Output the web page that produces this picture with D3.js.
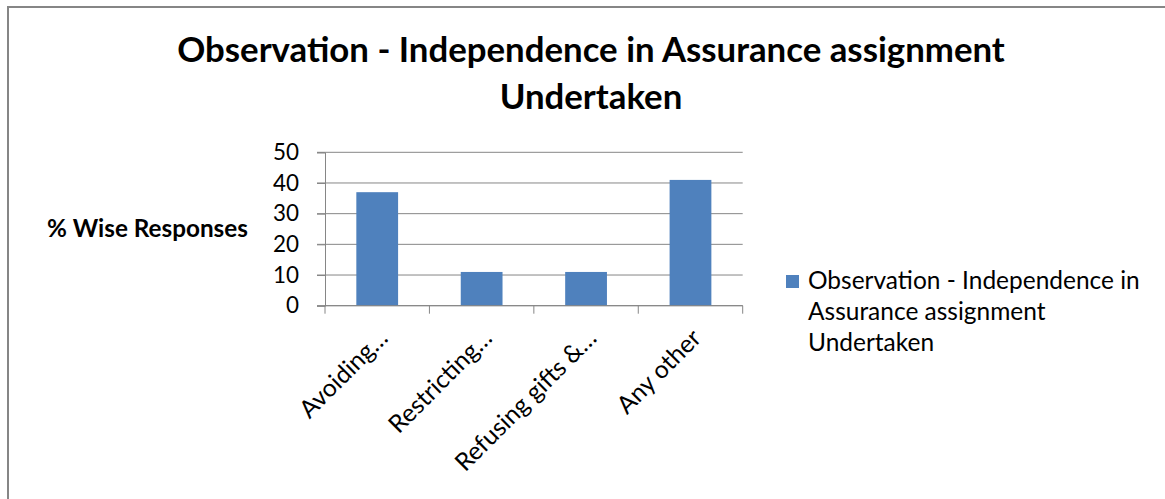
<!DOCTYPE html>
<html>
<head>
<meta charset="utf-8">
<script src="https://cdn.jsdelivr.net/npm/d3@7"></script>
<style>
  html, body { margin: 0; padding: 0; background: #fff; }
  svg { display: block; }
  text { font-family: Lato, "Open Sans", sans-serif; fill: #000; }
</style>
</head>
<body>
<svg id="chart" width="1165" height="499"></svg>
<script>
const titleLines = ["Observation - Independence in Assurance assignment", "Undertaken"];
const yAxisTitle = "% Wise Responses";
const categories = ["Avoiding…", "Restricting…", "Refusing gifts &…", "Any other"];
const values = [37, 11, 11, 41];
const yTicks = [0, 10, 20, 30, 40, 50];
const seriesName = "Observation - Independence in Assurance assignment Undertaken";
const legendLines = ["Observation - Independence in", "Assurance assignment", "Undertaken"];

const W = 1165, H = 499;
const plot = { left: 325, right: 742.7, top: 152.3, bottom: 305.7 };
const barColor = "#4F81BD";
const gridColor = "#868686";

const svg = d3.select("#chart");

// fit a text's font-size so its rendered width matches a target width
function fitSize(str, weight, target) {
  const t = svg.append("text").attr("font-size", 100).attr("font-weight", weight).text(str);
  const w = t.node().getComputedTextLength();
  t.remove();
  return 100 * target / w;
}

// chart border
svg.append("rect")
  .attr("x", 8).attr("y", 7).attr("width", W + 10).attr("height", H + 10)
  .attr("fill", "none").attr("stroke", gridColor).attr("stroke-width", 2);

// title
const titleSize = fitSize(titleLines[0], "bold", 828);
svg.append("g").selectAll("text").data(titleLines).join("text")
  .attr("x", 591).attr("y", (d, i) => [62, 109][i])
  .attr("text-anchor", "middle").attr("font-weight", "bold")
  .attr("font-size", titleSize).text(d => d);

// scales
const x = d3.scaleBand().domain(categories).range([plot.left, plot.right])
  .paddingInner(0.6).paddingOuter(0.3);
const y = d3.scaleLinear().domain([0, 50]).range([plot.bottom, plot.top]);

const tickSize = fitSize("50", "normal", 26);
const xLabelSize = tickSize * 1.1;

// gridlines
svg.append("g").selectAll("line").data(yTicks).join("line")
  .attr("x1", plot.left - 8).attr("x2", plot.right)
  .attr("y1", d => y(d)).attr("y2", d => y(d))
  .attr("stroke", gridColor).attr("stroke-width", 1);

// y axis
const yAxis = svg.append("g").attr("transform", `translate(${plot.left},0)`)
  .call(d3.axisLeft(y).tickValues(yTicks).tickSize(8).tickPadding(18));
yAxis.select(".domain").attr("stroke", gridColor);
yAxis.selectAll(".tick line").attr("stroke", gridColor);
yAxis.selectAll("text").attr("font-size", tickSize).attr("font-family", "Lato").attr("fill", "#000");

// bars
svg.append("g").selectAll("rect").data(values).join("rect")
  .attr("x", (d, i) => x(categories[i]))
  .attr("width", x.bandwidth())
  .attr("y", d => y(d))
  .attr("height", d => y(0) - y(d))
  .attr("fill", barColor);

// x axis line and boundary ticks
const step = x.step();
const bounds = d3.range(categories.length + 1).map(i => plot.left + i * step);
svg.append("line").attr("x1", plot.left).attr("x2", plot.right)
  .attr("y1", y(0)).attr("y2", y(0)).attr("stroke", gridColor);
svg.append("g").selectAll("line").data(bounds).join("line")
  .attr("x1", d => d).attr("x2", d => d)
  .attr("y1", y(0)).attr("y2", y(0) + 8)
  .attr("stroke", gridColor);

// x labels rotated
svg.append("g").selectAll("text").data(categories).join("text")
  .attr("text-anchor", "end")
  .attr("font-size", xLabelSize)
  .attr("transform", d => `translate(${x(d) + x.bandwidth() / 2 + 12},${y(0) + 34}) rotate(-45)`)
  .text(d => d);

// y axis title
const yTitleSize = fitSize(yAxisTitle, "bold", 201);
svg.append("text").attr("x", 47).attr("y", 237)
  .attr("font-weight", "bold").attr("font-size", yTitleSize).text(yAxisTitle);

// legend
const legSize = fitSize(legendLines[0], "normal", 332);
const legend = svg.append("g").attr("aria-label", seriesName);
legend.append("rect").attr("x", 786).attr("y", 275).attr("width", 13).attr("height", 13)
  .attr("fill", barColor);
legend.selectAll("text").data(legendLines).join("text")
  .attr("x", 808).attr("y", (d, i) => 289 + i * 31)
  .attr("font-size", legSize).text(d => d);
</script>
</body>
</html>
